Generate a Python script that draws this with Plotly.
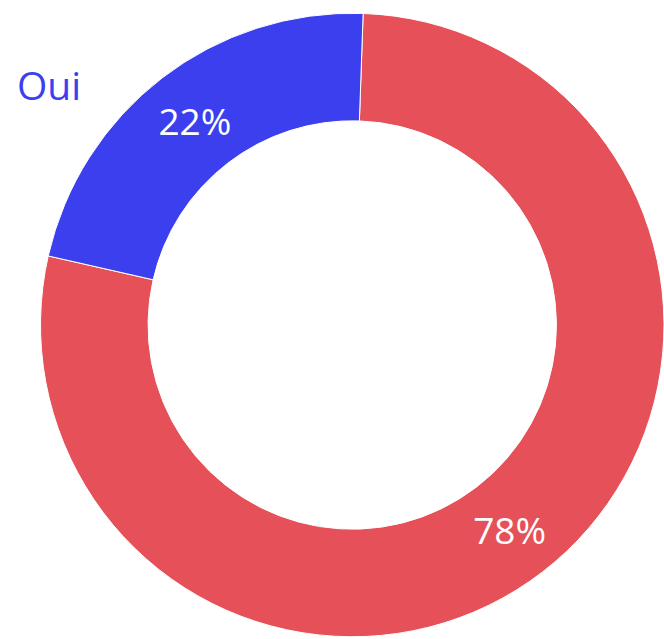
import plotly.graph_objects as go

labels = ["Non", "Oui"]
values = [78, 22]
colors = ["#E65058", "#3C3FEE"]

W, H = 664, 639
cx, cy_top, r = 352.5, 325, 312
cy = H - cy_top

fig = go.Figure(go.Pie(
    labels=labels,
    values=values,
    hole=0.655,
    sort=False,
    direction="clockwise",
    rotation=2,
    marker=dict(colors=colors, line=dict(color="white", width=1)),
    textinfo="percent",
    texttemplate="%{percent:.0%}",
    textposition="inside",
    insidetextorientation="horizontal",
    textfont=dict(family="Open Sans", size=37, color="white"),
    domain=dict(x=[(cx - r) / W, min(1.0, (cx + r) / W)], y=[(cy - r) / H, (cy + r) / H]),
    showlegend=False,
    hoverinfo="skip",
))

fig.add_annotation(
    text="Oui", x=15 / W, y=1 - 84 / H, xref="paper", yref="paper",
    xanchor="left", yanchor="middle", showarrow=False,
    font=dict(family="Open Sans", size=39, color="#3C3FEE"),
)

fig.update_layout(
    width=W, height=H,
    margin=dict(l=0, r=0, t=0, b=0),
    paper_bgcolor="white", plot_bgcolor="white",
)

fig.write_html("out.html")
